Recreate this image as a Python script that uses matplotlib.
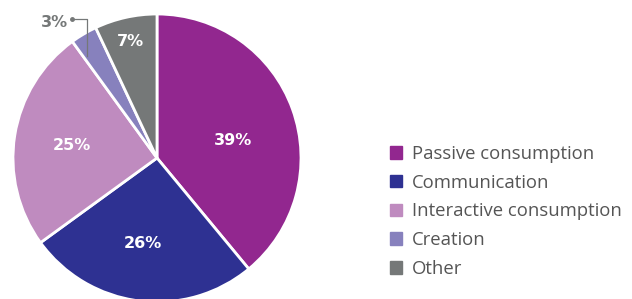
import matplotlib.pyplot as plt
import matplotlib.patches as mpatches
import numpy as np

labels = ['Passive consumption', 'Communication', 'Interactive consumption', 'Creation', 'Other']
values = [39, 26, 25, 3, 7]
colors = ['#92278F', '#2E3192', '#BF8BBF', '#8781BD', '#757878']

W, H = 632, 299
fig = plt.figure(figsize=(W / 100, H / 100), dpi=100)

# pie centre (157, 158) px, radius 144 px
cx, cy, r = 157, 158, 144
ax = fig.add_axes([(cx - r) / W, (H - cy - r) / H, 2 * r / W, 2 * r / H])
wedges, _ = ax.pie(values, colors=colors, startangle=90, counterclock=False,
                   radius=1, wedgeprops=dict(edgecolor='white', linewidth=2))
ax.set_xlim(-1, 1)
ax.set_ylim(-1, 1)
ax.set_aspect('equal')
ax.axis('off')

# (radius, angle shift) for each percentage label
label_pos = [(0.54, -6.5), (0.6, -2), (0.6, 1), None, (0.83, 0)]
for w, v, lp in zip(wedges, values, label_pos):
    mid = (w.theta1 + w.theta2) / 2
    if lp is None:
        # small slice: leader line to the outside
        m = np.deg2rad(mid)
        lx = 0.96 * np.cos(m)
        ly = 0.96 * np.sin(m) - 0.12
        top = 0.965
        ax.plot([lx, lx, lx - 0.1], [ly, top, top], color='#757878', lw=0.9,
                clip_on=False)
        ax.plot([lx - 0.1], [top], 'o', color='#757878', ms=2.5, clip_on=False)
        ax.text(lx - 0.13, top - 0.025, f'{v}%', ha='right', va='center',
                color='#757878', fontsize=11.5, fontweight='bold',
                family='DejaVu Sans')
        continue
    lr, shift = lp
    m = np.deg2rad(mid + shift)
    ax.text(lr * np.cos(m), lr * np.sin(m), f'{v}%', ha='center', va='center',
            color='white', fontsize=11.5, fontweight='bold', family='DejaVu Sans')

handles = [mpatches.Patch(color=c, label=l) for c, l in zip(colors, labels)]
leg = fig.legend(handles=handles, loc='upper left',
                 bbox_to_anchor=(390 / W, 1 - 145 / H), frameon=False,
                 handlelength=0.65, handleheight=0.65, handletextpad=0.55,
                 labelspacing=0.58, borderpad=0, borderaxespad=0,
                 prop=dict(family='Open Sans', size=13.3))
for t in leg.get_texts():
    t.set_color('#555555')

fig.savefig('out.png', dpi=100)
